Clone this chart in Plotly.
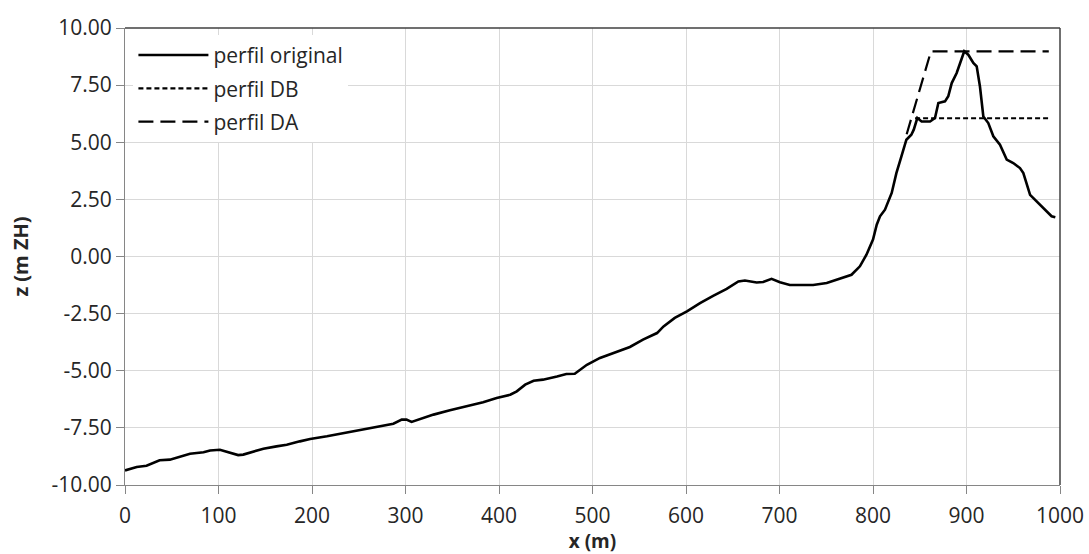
import plotly.graph_objects as go

# perfil original (x in m, z in m ZH)
x_orig = [0, 12.5, 23, 30, 37, 48, 59, 69.5, 84, 91, 101.5, 112, 121, 126.5, 137, 148, 162, 173, 187, 198,
          216, 230, 244, 258.5, 273, 287, 296, 301, 306.5, 315.5, 330, 347.5, 365.5, 383, 397.5, 412, 419,
          428, 437, 447, 462, 472, 481, 494, 508, 522, 540, 554, 569, 576, 588, 601, 615, 629, 643.5, 656,
          663, 675.5, 682.5, 691.5, 700.5, 711, 736, 750.5, 765, 777, 786, 793, 800, 804, 807.5, 812.8,
          820, 825, 830.4, 835.7, 841, 843.6, 847.4, 852, 861, 866.3, 869.9, 877, 880.5, 884.2, 889.5,
          897.6, 901.9, 907.3, 910.9, 914.4, 918, 923.3, 928.7, 935.8, 943, 950, 957.2, 960.8, 968, 975,
          982, 991, 995]
z_orig = [-9.36, -9.21, -9.16, -9.04, -8.92, -8.89, -8.75, -8.63, -8.57, -8.49, -8.46, -8.60, -8.69, -8.67,
          -8.53, -8.41, -8.31, -8.24, -8.09, -7.99, -7.87, -7.76, -7.65, -7.54, -7.44, -7.32, -7.14, -7.14,
          -7.24, -7.11, -6.92, -6.73, -6.56, -6.38, -6.19, -6.05, -5.90, -5.61, -5.44, -5.39, -5.25, -5.14,
          -5.13, -4.74, -4.44, -4.22, -3.96, -3.64, -3.35, -3.06, -2.69, -2.40, -2.04, -1.72, -1.42, -1.09,
          -1.05, -1.14, -1.12, -0.98, -1.13, -1.25, -1.25, -1.16, -0.98, -0.80, -0.43, 0.08, 0.74, 1.39,
          1.76, 2.05, 2.78, 3.65, 4.38, 5.11, 5.33, 5.55, 6.06, 5.91, 5.91, 6.06, 6.72, 6.79, 7.01, 7.59,
          8.03, 8.98, 8.83, 8.47, 8.32, 7.44, 6.13, 5.84, 5.26, 4.89, 4.24, 4.09, 3.87, 3.65, 2.70, 2.41,
          2.12, 1.76, 1.72]

# perfil DB
x_db = [845, 988]
z_db = [6.05, 6.05]

# perfil DA
x_da = [836, 862, 988]
z_da = [5.35, 8.98, 8.98]

x_ticks = list(range(0, 1001, 100))
y_ticks = [-10, -7.5, -5, -2.5, 0, 2.5, 5, 7.5, 10]

FONT = "Open Sans"
TXT = "#262626"
fig = go.Figure()
fig.add_trace(go.Scatter(x=x_orig, y=z_orig, mode="lines", name="perfil original",
                         line=dict(color="black", width=2.6), legendgroup="a"))
fig.add_trace(go.Scatter(x=x_db, y=z_db, mode="lines", name="perfil DB",
                         line=dict(color="black", width=2.2, dash="5px,3px"), legendgroup="b"))
fig.add_trace(go.Scatter(x=x_da, y=z_da, mode="lines", name="perfil DA",
                         line=dict(color="black", width=2.2, dash="15px,7px"), legendgroup="c"))

fig.update_layout(
    width=1089, height=554,
    margin=dict(l=125, r=29, t=28, b=69),
    paper_bgcolor="white", plot_bgcolor="white",
    font=dict(family=FONT, size=21, color=TXT),
    showlegend=True,
    legend=dict(x=0.009, y=0.985, xanchor="left", yanchor="top", bgcolor="white",
                itemwidth=70, tracegroupgap=3, font=dict(size=21, color=TXT),
                borderwidth=0, itemclick=False),
    xaxis=dict(range=[0, 1000], tickvals=x_ticks, ticktext=[str(v) for v in x_ticks],
               showgrid=True, gridcolor="#d9d9d9", gridwidth=1,
               showline=True, linecolor="#868686", linewidth=1,
               ticks="outside", ticklen=8, tickcolor="#868686",
               ticklabelstandoff=4,
               zeroline=False,
               title=dict(text="<b>x (m)</b>", standoff=4, font=dict(size=19)),
               automargin=False),
    yaxis=dict(range=[-10, 10], tickvals=y_ticks, ticktext=[f"{v:.2f}" for v in y_ticks],
               showgrid=True, gridcolor="#d9d9d9", gridwidth=1,
               showline=True, linecolor="#868686", linewidth=1,
               ticks="outside", ticklen=8, tickcolor="#868686",
               zeroline=False,
               title=dict(text="<b>z (m ZH)</b>", standoff=17, font=dict(size=20)),
               automargin=False),
    shapes=[
        dict(type="line", xref="paper", yref="paper", x0=0, x1=1, y0=1, y1=1,
             line=dict(color="#404040", width=1.5)),
        dict(type="line", xref="paper", yref="paper", x0=1, x1=1, y0=0, y1=1,
             line=dict(color="#404040", width=1.5)),
    ],
)

fig.write_html("out.html")
